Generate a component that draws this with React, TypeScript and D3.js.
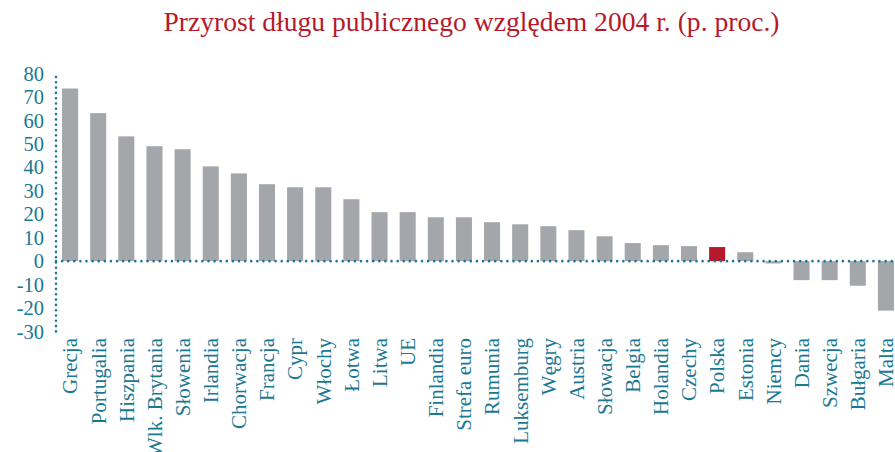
import React from "react";
import * as d3 from "d3";

const categories = ["Grecja","Portugalia","Hiszpania","Wlk. Brytania","Słowenia","Irlandia","Chorwacja","Francja","Cypr","Włochy","Łotwa","Litwa","UE","Finlandia","Strefa euro","Rumunia","Luksemburg","Węgry","Austria","Słowacja","Belgia","Holandia","Czechy","Polska","Estonia","Niemcy","Dania","Szwecja","Bułgaria","Malta"];
const values = [73.6,63.1,53.2,49.0,47.7,40.4,37.4,32.8,31.5,31.5,26.4,20.9,20.9,18.7,18.7,16.6,15.7,14.9,13.2,10.6,7.7,6.8,6.4,6.0,3.8,-1.0,-8.1,-8.1,-10.5,-21.1];
const highlight = ["Polska"];
const yTicks = [80,70,60,50,40,30,20,10,0,-10,-20,-30];
const title = "Przyrost długu publicznego względem 2004 r. (p. proc.)";

const W = 895, H = 452;
const TEAL = "#1a7893";
const GRAY = "#a3a6aa";
const RED = "#b5192b";
const FONT = "'Liberation Serif', 'DejaVu Serif', serif";

export default function App() {
  const x = d3.scaleBand<string>().domain(categories).range([56, 900]).paddingInner(0.43).paddingOuter(0.215);
  const y = d3.scaleLinear().domain([-30, 80]).range([331.5, 73.5]);
  const y0 = y(0);
  return (
    <svg width={W} height={H} style={{ position: "absolute", left: 0, top: 0, background: "#fff" }}>
      <text x={471.5} y={31} textAnchor="middle" fill={RED} fontFamily={FONT} fontSize={27.6}>{title}</text>
      {categories.map((c, i) => {
        const v = values[i];
        return (
          <rect key={c} x={x(c)} width={x.bandwidth()} y={Math.min(y(v), y0)} height={Math.abs(y(v) - y0)}
            fill={highlight.includes(c) ? RED : GRAY} />
        );
      })}
      <line x1={56} x2={895} y1={y0} y2={y0} stroke={TEAL} strokeWidth={2.6} strokeDasharray="0 6.1" strokeLinecap="round" />
      <line x1={56} x2={56} y1={y(78.5)} y2={y(-30)} stroke={TEAL} strokeWidth={2.6} strokeDasharray="0 5.3" strokeLinecap="round" />
      {yTicks.map(t => (
        <text key={t} x={44} y={y(t)} dy="0.35em" textAnchor="end" fill={TEAL} fontFamily={FONT} fontSize={20.5}>{t}</text>
      ))}
      {categories.map(c => {
        const cx = (x(c) as number) + x.bandwidth() / 2;
        return (
          <text key={c} transform={`translate(${cx},338) rotate(-90)`} dy="0.35em" textAnchor="end" fill={TEAL} fontFamily={FONT} fontSize={21}>{c}</text>
        );
      })}
    </svg>
  );
}
